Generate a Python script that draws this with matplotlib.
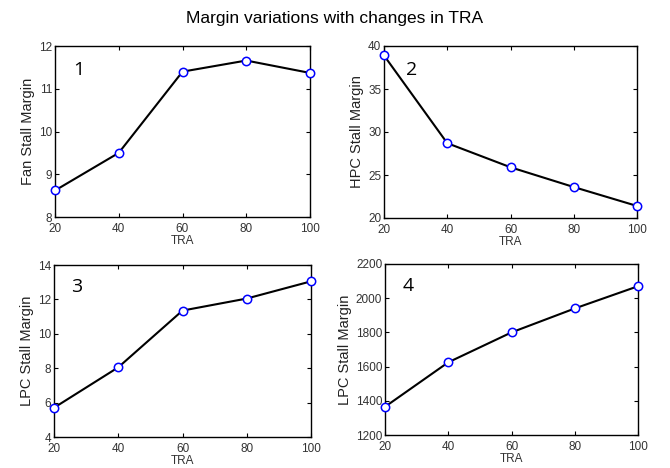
import matplotlib
matplotlib.use("Agg")
import matplotlib.pyplot as plt

plt.rcParams['font.family'] = ['Liberation Sans', 'DejaVu Sans']

tra = [20, 40, 60, 80, 100]
fan_margin = [8.62, 9.5, 11.4, 11.66, 11.37]
hpc_margin = [38.9, 28.7, 25.9, 23.6, 21.4]
lpc_margin = [5.7, 8.05, 11.35, 12.05, 13.05]
lpc_margin_2 = [1365, 1625, 1800, 1940, 2070]

panels = [
    ("1", fan_margin, "Fan Stall Margin", (8, 12), [8, 9, 10, 11, 12]),
    ("2", hpc_margin, "HPC Stall Margin", (20, 40), [20, 25, 30, 35, 40]),
    ("3", lpc_margin, "LPC Stall Margin", (4, 14), [4, 6, 8, 10, 12, 14]),
    ("4", lpc_margin_2, "LPC Stall Margin", (1200, 2200), [1200, 1400, 1600, 1800, 2000, 2200]),
]

# axes boxes in pixels (left, top, right, bottom)
boxes = [(55, 46, 310, 217), (384, 46, 637, 218),
         (54, 265, 311, 437), (385, 264, 638, 435)]
W, H = 670, 468
label_pos = [(0.07, 0.86), (0.085, 0.86), (0.065, 0.87), (0.07, 0.87)]

fig = plt.figure(figsize=(6.7, 4.68), dpi=100)

for (num, vals, ylab, ylim, yticks), (l, t, r, b), (lx, ly) in zip(panels, boxes, label_pos):
    ax = fig.add_axes([l / W, 1 - b / H, (r - l) / W, (b - t) / H])
    ax.plot(tra, vals, color='black', lw=1.5, marker='o', ms=6,
            mfc='white', mec='blue', mew=1.1, clip_on=False, zorder=3)
    ax.set_xlim(20, 100)
    ax.set_ylim(*ylim)
    ax.set_xticks(tra)
    ax.set_yticks(yticks)
    ax.tick_params(direction='in', top=True, right=True, length=3,
                   labelsize=8.5, labelcolor='#333333')
    ax.tick_params(axis='x', pad=4)
    ax.tick_params(axis='y', pad=2)
    for s in ax.spines.values():
        s.set_linewidth(1.0)
    ax.set_xlabel("TRA", fontsize=8.5, color='#333333', labelpad=0)
    ax.set_ylabel(ylab, fontsize=10.5, color='#222222', labelpad=3)
    ax.text(lx, ly, num, transform=ax.transAxes, fontsize=14,
            family=['Open Sans', 'DejaVu Sans'], ha='left', va='center')

fig.text(0.5, 1 - 18 / H, "Margin variations with changes in TRA",
         ha='center', va='center', fontsize=12.5)

fig.savefig("out.png", dpi=100)
